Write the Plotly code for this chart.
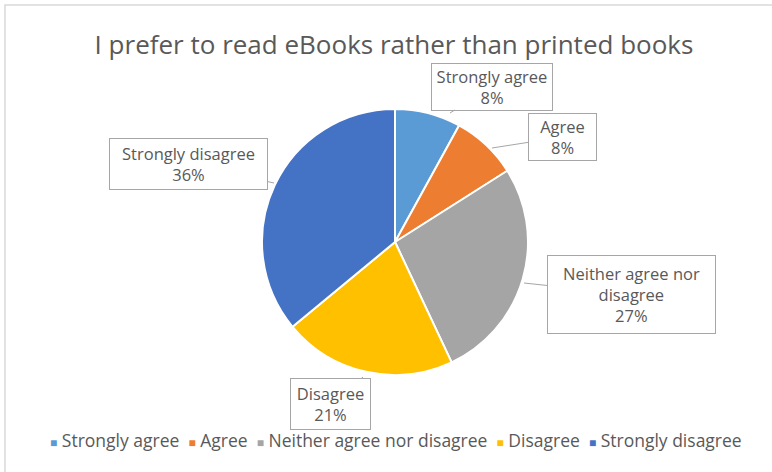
import plotly.graph_objects as go

categories = ["Strongly agree", "Agree", "Neither agree nor disagree", "Disagree", "Strongly disagree"]
values = [8, 8, 27, 21, 36]
colors = ["#5B9BD5", "#ED7D31", "#A5A5A5", "#FFC000", "#4472C4"]
callout_text = ["Strongly agree<br>8%", "Agree<br>8%", "Neither agree nor<br>disagree<br>27%",
                "Disagree<br>21%", "Strongly disagree<br>36%"]
title_text = "I prefer to read eBooks rather than printed books"

W, H = 772, 472
FONT = "Open Sans, sans-serif"
GRAY = "#595959"

def px(x):
    return x / W

def py(y):
    return 1 - y / H

# pie centre (395, 242), radius 133 px
cx, cy, r = 395, 242, 133

fig = go.Figure(go.Pie(
    labels=categories, values=values, sort=False, direction="clockwise", rotation=0,
    marker=dict(colors=colors, line=dict(color="white", width=2)),
    textinfo="none", hoverinfo="label+percent",
    domain=dict(x=[px(cx - r), px(cx + r)], y=[py(cy + r), py(cy - r)]),
    showlegend=False,
))

# callout layout: tip point (on slice) and box centre / size in pixels
tips = [(450, 113), (492, 148), (524, 283), (363, 377), (274, 183)]
boxes = [(492, 86.5, 122, 48), (562.5, 137, 69, 48), (631.5, 294.5, 169, 79),
         (330.5, 404, 81, 52), (188.5, 164, 159, 52)]

annotations = []
for txt, (tx, ty), (bx, by, bw, bh) in zip(callout_text, tips, boxes):
    annotations.append(dict(
        x=px(tx), y=py(ty), xref="paper", yref="paper",
        ax=bx - tx, ay=by - ty, axref="pixel", ayref="pixel",
        text=txt, showarrow=True, arrowhead=0, arrowwidth=1, arrowcolor="#A6A6A6",
        standoff=0, startstandoff=0,
        bordercolor="#A6A6A6", borderwidth=1, bgcolor="white",
        width=bw - 2, height=bh - 2, borderpad=0,
        font=dict(family=FONT, size=16.5, color=GRAY),
        align="center", valign="middle",
    ))

# legend row built from the categories / colours
legend_parts = []
for cat, col in zip(categories, colors):
    legend_parts.append(f'<span style="color:{col};font-size:12px">■</span> {cat}')
legend_text = "  ".join(legend_parts)
annotations.append(dict(
    x=px(396), y=py(440), xref="paper", yref="paper", xanchor="center", yanchor="middle",
    text=legend_text, showarrow=False,
    font=dict(family=FONT, size=17.5, color=GRAY),
))

fig.update_layout(
    width=W, height=H,
    margin=dict(l=0, r=0, t=0, b=0),
    paper_bgcolor="white", plot_bgcolor="white",
    title=dict(text=title_text, x=px(394), xanchor="center", y=py(45), yanchor="middle",
               font=dict(family=FONT, size=26, color=GRAY)),
    showlegend=False,
    annotations=annotations,
    shapes=[dict(type="rect", xref="paper", yref="paper", x0=px(5), y0=-0.02, x1=1.02, y1=py(5),
                 line=dict(color="#D9D9D9", width=1.5), fillcolor="rgba(0,0,0,0)", layer="below")],
)

fig.write_html("out.html", config={"displayModeBar": False},
               post_script="document.body.style.margin='0px';")
